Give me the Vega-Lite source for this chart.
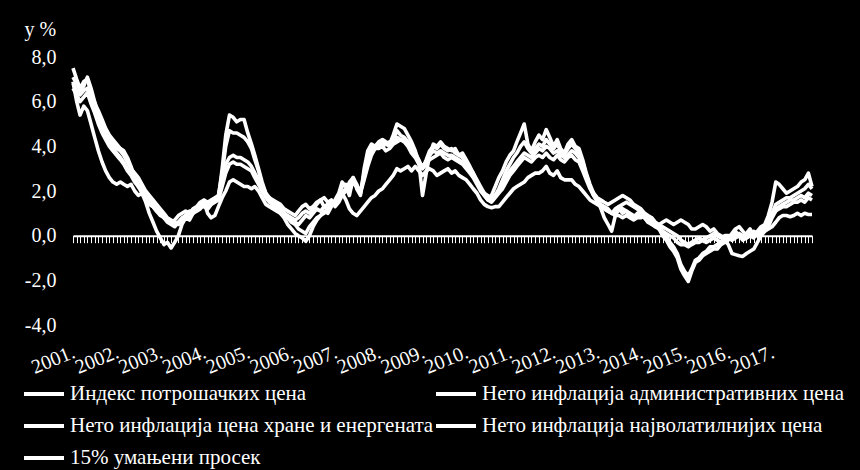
{
"$schema": "https://vega.github.io/schema/vega-lite/v6.json",
"width": 739,
"height": 268,
"autosize": {"type": "none"},
"padding": {"left": 73, "top": 57, "right": 48, "bottom": 145},
"background": "black",
"config": {"view": {"stroke": null}, "font": "'Liberation Serif', 'Times New Roman', serif"},
"data": {"values": [
{"t":"2001-01","a":7.5,"b":7.1,"c":6.8,"d":6.6,"e":6.9},
{"t":"2001-02","a":7.0,"b":6.8,"c":6.5,"d":6.3,"e":6.0},
{"t":"2001-03","a":6.6,"b":6.5,"c":6.3,"d":6.0,"e":5.4},
{"t":"2001-04","a":6.9,"b":6.7,"c":6.5,"d":6.2,"e":5.8},
{"t":"2001-05","a":7.0,"b":7.1,"c":6.6,"d":6.4,"e":5.6},
{"t":"2001-06","a":6.4,"b":6.6,"c":6.2,"d":5.9,"e":5.0},
{"t":"2001-07","a":5.9,"b":6.0,"c":5.8,"d":5.5,"e":4.4},
{"t":"2001-08","a":5.6,"b":5.5,"c":5.3,"d":5.0,"e":3.8},
{"t":"2001-09","a":5.2,"b":5.0,"c":4.9,"d":4.6,"e":3.3},
{"t":"2001-10","a":4.8,"b":4.7,"c":4.5,"d":4.3,"e":2.9},
{"t":"2001-11","a":4.5,"b":4.4,"c":4.2,"d":4.0,"e":2.6},
{"t":"2001-12","a":4.3,"b":4.1,"c":3.9,"d":3.8,"e":2.4},
{"t":"2002-01","a":4.1,"b":3.9,"c":3.7,"d":3.6,"e":2.3},
{"t":"2002-02","a":3.9,"b":3.8,"c":3.5,"d":3.4,"e":2.4},
{"t":"2002-03","a":3.8,"b":3.6,"c":3.3,"d":3.2,"e":2.3},
{"t":"2002-04","a":3.5,"b":3.3,"c":3.0,"d":2.9,"e":2.2},
{"t":"2002-05","a":3.1,"b":3.0,"c":2.8,"d":2.7,"e":2.3},
{"t":"2002-06","a":2.6,"b":2.8,"c":2.6,"d":2.4,"e":2.0},
{"t":"2002-07","a":2.2,"b":2.6,"c":2.3,"d":2.2,"e":1.8},
{"t":"2002-08","a":1.9,"b":2.3,"c":2.1,"d":2.0,"e":1.9},
{"t":"2002-09","a":1.5,"b":2.0,"c":1.9,"d":1.8,"e":1.6},
{"t":"2002-10","a":1.0,"b":1.8,"c":1.6,"d":1.6,"e":1.4},
{"t":"2002-11","a":0.6,"b":1.6,"c":1.4,"d":1.3,"e":1.3},
{"t":"2002-12","a":0.2,"b":1.4,"c":1.2,"d":1.1,"e":1.1},
{"t":"2003-01","a":-0.1,"b":1.2,"c":1.0,"d":0.9,"e":1.0},
{"t":"2003-02","a":-0.4,"b":1.0,"c":0.9,"d":0.8,"e":0.8},
{"t":"2003-03","a":-0.3,"b":0.8,"c":0.7,"d":0.6,"e":0.7},
{"t":"2003-04","a":-0.55,"b":0.7,"c":0.6,"d":0.5,"e":0.6},
{"t":"2003-05","a":-0.3,"b":0.6,"c":0.7,"d":0.4,"e":0.5},
{"t":"2003-06","a":0.0,"b":0.5,"c":0.9,"d":0.6,"e":0.6},
{"t":"2003-07","a":0.5,"b":0.7,"c":1.0,"d":0.8,"e":0.7},
{"t":"2003-08","a":0.8,"b":0.9,"c":1.1,"d":0.9,"e":0.9},
{"t":"2003-09","a":0.7,"b":0.8,"c":1.0,"d":1.0,"e":1.1},
{"t":"2003-10","a":1.0,"b":1.0,"c":1.2,"d":1.1,"e":1.0},
{"t":"2003-11","a":1.2,"b":1.1,"c":1.3,"d":1.2,"e":1.2},
{"t":"2003-12","a":1.3,"b":1.2,"c":1.5,"d":1.3,"e":1.3},
{"t":"2004-01","a":1.5,"b":1.4,"c":1.6,"d":1.3,"e":1.5},
{"t":"2004-02","a":1.2,"b":1.3,"c":1.5,"d":1.2,"e":1.0},
{"t":"2004-03","a":1.4,"b":1.5,"c":1.6,"d":1.4,"e":0.8},
{"t":"2004-04","a":1.6,"b":1.6,"c":1.7,"d":1.5,"e":0.9},
{"t":"2004-05","a":1.7,"b":1.8,"c":1.8,"d":1.6,"e":1.3},
{"t":"2004-06","a":3.0,"b":2.8,"c":2.5,"d":2.2,"e":1.7},
{"t":"2004-07","a":4.5,"b":4.0,"c":3.2,"d":2.8,"e":2.0},
{"t":"2004-08","a":5.4,"b":4.7,"c":3.5,"d":3.2,"e":2.4},
{"t":"2004-09","a":5.3,"b":4.6,"c":3.6,"d":3.3,"e":2.5},
{"t":"2004-10","a":5.1,"b":4.6,"c":3.5,"d":3.2,"e":2.4},
{"t":"2004-11","a":5.2,"b":4.5,"c":3.5,"d":3.2,"e":2.3},
{"t":"2004-12","a":5.2,"b":4.4,"c":3.4,"d":3.1,"e":2.2},
{"t":"2005-01","a":4.6,"b":4.2,"c":3.3,"d":3.0,"e":2.2},
{"t":"2005-02","a":4.1,"b":3.9,"c":3.1,"d":2.9,"e":2.1},
{"t":"2005-03","a":3.6,"b":3.4,"c":2.8,"d":2.6,"e":2.2},
{"t":"2005-04","a":3.0,"b":2.9,"c":2.5,"d":2.3,"e":2.0},
{"t":"2005-05","a":2.4,"b":2.3,"c":2.1,"d":2.0,"e":1.7},
{"t":"2005-06","a":1.9,"b":1.9,"c":1.8,"d":1.7,"e":1.4},
{"t":"2005-07","a":1.6,"b":1.7,"c":1.7,"d":1.5,"e":1.3},
{"t":"2005-08","a":1.3,"b":1.5,"c":1.6,"d":1.4,"e":1.2},
{"t":"2005-09","a":1.2,"b":1.4,"c":1.5,"d":1.3,"e":1.1},
{"t":"2005-10","a":1.0,"b":1.3,"c":1.4,"d":1.2,"e":1.0},
{"t":"2005-11","a":0.8,"b":1.0,"c":1.2,"d":1.0,"e":0.9},
{"t":"2005-12","a":0.5,"b":0.8,"c":1.1,"d":0.9,"e":0.8},
{"t":"2006-01","a":0.3,"b":0.6,"c":1.0,"d":0.8,"e":0.7},
{"t":"2006-02","a":0.1,"b":0.5,"c":0.9,"d":0.7,"e":0.6},
{"t":"2006-03","a":0.0,"b":0.3,"c":1.1,"d":0.8,"e":0.5},
{"t":"2006-04","a":-0.1,"b":0.2,"c":1.3,"d":1.0,"e":0.7},
{"t":"2006-05","a":-0.25,"b":0.1,"c":1.4,"d":1.1,"e":0.9},
{"t":"2006-06","a":0.0,"b":0.4,"c":1.2,"d":1.0,"e":0.8},
{"t":"2006-07","a":0.4,"b":0.6,"c":1.3,"d":1.2,"e":1.0},
{"t":"2006-08","a":0.7,"b":0.8,"c":1.5,"d":1.4,"e":1.2},
{"t":"2006-09","a":0.9,"b":0.9,"c":1.6,"d":1.6,"e":1.1},
{"t":"2006-10","a":1.1,"b":1.0,"c":1.3,"d":1.7,"e":1.3},
{"t":"2006-11","a":1.0,"b":1.2,"c":1.4,"d":1.5,"e":1.2},
{"t":"2006-12","a":1.3,"b":1.4,"c":1.5,"d":1.6,"e":1.4},
{"t":"2007-01","a":1.6,"b":1.5,"c":1.4,"d":1.3,"e":1.5},
{"t":"2007-02","a":1.9,"b":1.8,"c":1.6,"d":1.5,"e":1.7},
{"t":"2007-03","a":2.4,"b":2.2,"c":1.9,"d":1.8,"e":1.9},
{"t":"2007-04","a":2.2,"b":2.3,"c":2.1,"d":2.0,"e":1.6},
{"t":"2007-05","a":1.8,"b":2.0,"c":2.3,"d":2.4,"e":1.2},
{"t":"2007-06","a":2.6,"b":2.4,"c":2.5,"d":2.6,"e":1.0},
{"t":"2007-07","a":2.1,"b":2.2,"c":2.2,"d":2.3,"e":0.9},
{"t":"2007-08","a":1.8,"b":1.9,"c":2.0,"d":1.9,"e":1.1},
{"t":"2007-09","a":3.0,"b":2.8,"c":2.6,"d":2.5,"e":1.3},
{"t":"2007-10","a":3.8,"b":3.6,"c":3.3,"d":3.1,"e":1.5},
{"t":"2007-11","a":4.1,"b":4.0,"c":3.8,"d":3.6,"e":1.7},
{"t":"2007-12","a":4.0,"b":3.9,"c":4.0,"d":3.9,"e":1.8},
{"t":"2008-01","a":4.2,"b":4.0,"c":4.1,"d":3.9,"e":2.0},
{"t":"2008-02","a":4.3,"b":4.2,"c":4.0,"d":4.0,"e":2.1},
{"t":"2008-03","a":4.2,"b":4.1,"c":4.1,"d":3.8,"e":2.3},
{"t":"2008-04","a":4.1,"b":4.0,"c":4.2,"d":3.9,"e":2.5},
{"t":"2008-05","a":4.5,"b":4.3,"c":4.2,"d":4.1,"e":2.7},
{"t":"2008-06","a":5.0,"b":4.7,"c":4.4,"d":4.2,"e":3.0},
{"t":"2008-07","a":4.9,"b":4.5,"c":4.3,"d":4.3,"e":2.9},
{"t":"2008-08","a":4.8,"b":4.4,"c":4.3,"d":4.2,"e":3.0},
{"t":"2008-09","a":4.5,"b":4.2,"c":4.1,"d":4.0,"e":3.1},
{"t":"2008-10","a":4.2,"b":4.0,"c":3.8,"d":3.7,"e":2.9},
{"t":"2008-11","a":3.8,"b":3.7,"c":3.6,"d":3.5,"e":3.1},
{"t":"2008-12","a":3.3,"b":3.4,"c":3.3,"d":3.2,"e":2.9},
{"t":"2009-01","a":1.8,"b":3.0,"c":3.1,"d":3.0,"e":2.7},
{"t":"2009-02","a":2.8,"b":3.4,"c":3.3,"d":3.2,"e":2.9},
{"t":"2009-03","a":3.6,"b":3.8,"c":3.6,"d":3.4,"e":3.0},
{"t":"2009-04","a":4.1,"b":4.0,"c":3.8,"d":3.5,"e":2.9},
{"t":"2009-05","a":4.0,"b":3.9,"c":3.7,"d":3.6,"e":2.7},
{"t":"2009-06","a":4.2,"b":4.1,"c":3.8,"d":3.7,"e":2.8},
{"t":"2009-07","a":4.0,"b":3.9,"c":3.7,"d":3.5,"e":2.9},
{"t":"2009-08","a":3.9,"b":3.8,"c":3.6,"d":3.4,"e":3.0},
{"t":"2009-09","a":3.8,"b":3.9,"c":3.6,"d":3.5,"e":2.8},
{"t":"2009-10","a":3.9,"b":3.7,"c":3.5,"d":3.4,"e":2.9},
{"t":"2009-11","a":3.6,"b":3.6,"c":3.4,"d":3.3,"e":2.7},
{"t":"2009-12","a":3.7,"b":3.5,"c":3.3,"d":3.2,"e":2.6},
{"t":"2010-01","a":3.4,"b":3.3,"c":3.2,"d":3.0,"e":2.5},
{"t":"2010-02","a":3.1,"b":3.0,"c":3.0,"d":2.8,"e":2.3},
{"t":"2010-03","a":2.8,"b":2.8,"c":2.7,"d":2.6,"e":2.1},
{"t":"2010-04","a":2.4,"b":2.5,"c":2.4,"d":2.3,"e":1.9},
{"t":"2010-05","a":2.1,"b":2.2,"c":2.1,"d":2.0,"e":1.6},
{"t":"2010-06","a":1.8,"b":1.9,"c":1.9,"d":1.8,"e":1.4},
{"t":"2010-07","a":1.6,"b":1.7,"c":1.8,"d":1.6,"e":1.3},
{"t":"2010-08","a":1.8,"b":1.6,"c":1.7,"d":1.5,"e":1.25},
{"t":"2010-09","a":2.2,"b":1.8,"c":1.8,"d":1.7,"e":1.3},
{"t":"2010-10","a":2.6,"b":2.1,"c":2.0,"d":1.9,"e":1.3},
{"t":"2010-11","a":2.9,"b":2.5,"c":2.3,"d":2.1,"e":1.5},
{"t":"2010-12","a":3.3,"b":2.9,"c":2.6,"d":2.4,"e":1.7},
{"t":"2011-01","a":3.6,"b":3.2,"c":2.9,"d":2.7,"e":1.9},
{"t":"2011-02","a":3.8,"b":3.5,"c":3.1,"d":2.9,"e":2.1},
{"t":"2011-03","a":4.2,"b":3.7,"c":3.3,"d":3.1,"e":2.2},
{"t":"2011-04","a":4.6,"b":4.0,"c":3.5,"d":3.3,"e":2.3},
{"t":"2011-05","a":5.0,"b":4.2,"c":3.7,"d":3.5,"e":2.4},
{"t":"2011-06","a":4.1,"b":3.9,"c":3.6,"d":3.4,"e":2.6},
{"t":"2011-07","a":3.8,"b":3.7,"c":3.5,"d":3.3,"e":2.7},
{"t":"2011-08","a":4.2,"b":3.9,"c":3.7,"d":3.5,"e":2.8},
{"t":"2011-09","a":4.5,"b":4.1,"c":3.9,"d":3.6,"e":2.8},
{"t":"2011-10","a":4.3,"b":4.0,"c":3.8,"d":3.5,"e":2.9},
{"t":"2011-11","a":4.75,"b":4.3,"c":4.0,"d":3.7,"e":3.1},
{"t":"2011-12","a":4.4,"b":4.1,"c":3.9,"d":3.5,"e":2.8},
{"t":"2012-01","a":4.0,"b":3.9,"c":3.7,"d":3.4,"e":2.7},
{"t":"2012-02","a":4.3,"b":4.1,"c":3.8,"d":3.6,"e":2.9},
{"t":"2012-03","a":3.9,"b":3.8,"c":3.6,"d":3.4,"e":2.6},
{"t":"2012-04","a":3.7,"b":3.6,"c":3.5,"d":3.3,"e":2.5},
{"t":"2012-05","a":4.1,"b":3.9,"c":3.6,"d":3.5,"e":2.5},
{"t":"2012-06","a":4.3,"b":4.1,"c":3.8,"d":3.6,"e":2.5},
{"t":"2012-07","a":4.0,"b":3.9,"c":3.7,"d":3.4,"e":2.3},
{"t":"2012-08","a":3.9,"b":3.7,"c":3.5,"d":3.3,"e":2.2},
{"t":"2012-09","a":3.4,"b":3.3,"c":3.1,"d":2.9,"e":2.0},
{"t":"2012-10","a":2.8,"b":2.7,"c":2.6,"d":2.5,"e":1.8},
{"t":"2012-11","a":2.3,"b":2.2,"c":2.2,"d":2.1,"e":1.6},
{"t":"2012-12","a":1.9,"b":1.8,"c":1.9,"d":1.8,"e":1.5},
{"t":"2013-01","a":1.6,"b":1.6,"c":1.7,"d":1.5,"e":1.4},
{"t":"2013-02","a":1.2,"b":1.4,"c":1.6,"d":1.3,"e":1.3},
{"t":"2013-03","a":0.8,"b":1.3,"c":1.5,"d":1.2,"e":1.2},
{"t":"2013-04","a":0.5,"b":1.2,"c":1.4,"d":1.1,"e":1.1},
{"t":"2013-05","a":0.2,"b":1.0,"c":1.5,"d":1.0,"e":1.0},
{"t":"2013-06","a":0.9,"b":1.1,"c":1.6,"d":1.2,"e":0.9},
{"t":"2013-07","a":1.2,"b":1.3,"c":1.7,"d":1.3,"e":0.9},
{"t":"2013-08","a":1.0,"b":1.4,"c":1.8,"d":1.2,"e":0.8},
{"t":"2013-09","a":1.1,"b":1.5,"c":1.7,"d":1.1,"e":0.9},
{"t":"2013-10","a":0.9,"b":1.4,"c":1.6,"d":1.0,"e":0.8},
{"t":"2013-11","a":0.8,"b":1.3,"c":1.4,"d":0.9,"e":0.7},
{"t":"2013-12","a":1.0,"b":1.2,"c":1.3,"d":0.9,"e":0.8},
{"t":"2014-01","a":0.9,"b":1.0,"c":1.2,"d":0.9,"e":0.8},
{"t":"2014-02","a":0.8,"b":0.9,"c":1.0,"d":0.8,"e":0.9},
{"t":"2014-03","a":0.6,"b":0.7,"c":0.9,"d":0.6,"e":0.7},
{"t":"2014-04","a":0.7,"b":0.8,"c":0.8,"d":0.5,"e":0.6},
{"t":"2014-05","a":0.5,"b":0.6,"c":0.6,"d":0.4,"e":0.4},
{"t":"2014-06","a":0.3,"b":0.4,"c":0.5,"d":0.3,"e":0.5},
{"t":"2014-07","a":0.0,"b":0.2,"c":0.4,"d":0.2,"e":0.6},
{"t":"2014-08","a":-0.2,"b":0.0,"c":0.3,"d":0.1,"e":0.7},
{"t":"2014-09","a":-0.5,"b":-0.3,"c":0.2,"d":0.0,"e":0.6},
{"t":"2014-10","a":-0.7,"b":-0.5,"c":0.1,"d":-0.1,"e":0.5},
{"t":"2014-11","a":-1.0,"b":-0.8,"c":0.0,"d":-0.3,"e":0.6},
{"t":"2014-12","a":-1.5,"b":-1.3,"c":-0.2,"d":-0.4,"e":0.7},
{"t":"2015-01","a":-1.8,"b":-1.6,"c":-0.3,"d":-0.4,"e":0.6},
{"t":"2015-02","a":-2.05,"b":-1.8,"c":-0.4,"d":-0.5,"e":0.5},
{"t":"2015-03","a":-1.6,"b":-1.5,"c":-0.3,"d":-0.4,"e":0.3},
{"t":"2015-04","a":-1.2,"b":-1.1,"c":-0.2,"d":-0.3,"e":0.3},
{"t":"2015-05","a":-1.1,"b":-1.0,"c":-0.1,"d":-0.3,"e":0.4},
{"t":"2015-06","a":-0.9,"b":-0.8,"c":-0.2,"d":-0.2,"e":0.5},
{"t":"2015-07","a":-0.8,"b":-0.7,"c":-0.1,"d":-0.3,"e":0.4},
{"t":"2015-08","a":-0.7,"b":-0.5,"c":0.0,"d":-0.2,"e":0.2},
{"t":"2015-09","a":-0.6,"b":-0.5,"c":0.1,"d":-0.1,"e":0.3},
{"t":"2015-10","a":-0.6,"b":-0.4,"c":0.0,"d":-0.2,"e":0.1},
{"t":"2015-11","a":-0.4,"b":-0.3,"c":-0.1,"d":-0.3,"e":0.0},
{"t":"2015-12","a":-0.3,"b":-0.2,"c":0.0,"d":-0.2,"e":-0.1},
{"t":"2016-01","a":-0.2,"b":-0.1,"c":0.0,"d":-0.4,"e":-0.1},
{"t":"2016-02","a":0.0,"b":0.1,"c":-0.1,"d":-0.8,"e":-0.2},
{"t":"2016-03","a":0.2,"b":0.3,"c":0.0,"d":-0.85,"e":-0.1},
{"t":"2016-04","a":0.0,"b":0.4,"c":0.1,"d":-0.9,"e":0.0},
{"t":"2016-05","a":-0.1,"b":0.2,"c":0.0,"d":-0.93,"e":-0.2},
{"t":"2016-06","a":0.1,"b":0.0,"c":-0.1,"d":-0.8,"e":-0.1},
{"t":"2016-07","a":0.3,"b":0.1,"c":0.0,"d":-0.7,"e":0.0},
{"t":"2016-08","a":0.0,"b":0.2,"c":0.1,"d":-0.6,"e":-0.1},
{"t":"2016-09","a":0.2,"b":0.1,"c":0.0,"d":-0.3,"e":0.1},
{"t":"2016-10","a":0.4,"b":0.3,"c":0.2,"d":0.0,"e":0.0},
{"t":"2016-11","a":0.5,"b":0.4,"c":0.3,"d":0.2,"e":0.2},
{"t":"2016-12","a":0.9,"b":0.7,"c":0.5,"d":0.4,"e":0.3},
{"t":"2017-01","a":1.5,"b":1.0,"c":0.9,"d":0.8,"e":0.4},
{"t":"2017-02","a":2.4,"b":1.4,"c":1.2,"d":1.1,"e":0.6},
{"t":"2017-03","a":2.3,"b":1.5,"c":1.3,"d":1.2,"e":0.8},
{"t":"2017-04","a":2.1,"b":1.6,"c":1.4,"d":1.3,"e":0.9},
{"t":"2017-05","a":1.9,"b":1.7,"c":1.5,"d":1.3,"e":0.9},
{"t":"2017-06","a":2.0,"b":1.7,"c":1.6,"d":1.4,"e":0.85},
{"t":"2017-07","a":2.1,"b":1.8,"c":1.6,"d":1.5,"e":0.9},
{"t":"2017-08","a":2.2,"b":1.9,"c":1.7,"d":1.5,"e":1.0},
{"t":"2017-09","a":2.4,"b":2.0,"c":1.8,"d":1.6,"e":0.9},
{"t":"2017-10","a":2.5,"b":2.1,"c":1.7,"d":1.5,"e":1.0},
{"t":"2017-11","a":2.8,"b":2.3,"c":1.9,"d":1.7,"e":0.95},
{"t":"2017-12","a":2.2,"b":2.1,"c":1.8,"d":1.6,"e":0.95}
]},
"transform": [{"fold": ["a", "b", "c", "d", "e"], "as": ["s", "v"]}],
"mark": {"type": "line", "strokeWidth": 3.6, "strokeJoin": "round"},
"encoding": {
  "x": {
    "field": "t", "type": "temporal",
    "scale": {"type": "utc", "domain": [{"year": 2001, "month": 1, "date": 1, "utc": true}, {"year": 2017, "month": 12, "date": 1, "utc": true}]},
    "axis": {
      "orient": "bottom", "offset": -89.33, "title": null, "grid": false,
      "domainColor": "white", "domainWidth": 2,
      "tickColor": "white", "tickWidth": 1, "tickSize": 7,
      "tickCount": {"interval": "month", "step": 1},
      "labelExpr": "utcmonth(datum.value) == 0 ? utcFormat(datum.value, '%Y.') : ''",
      "labelOverlap": false, "labelFlush": false,
      "labelAngle": -22, "labelAlign": "right", "labelBaseline": "alphabetic",
      "labelPadding": 114, "labelOffset": 3,
      "labelColor": "white", "labelFont": "'Liberation Serif', 'Times New Roman', serif", "labelFontSize": 20
    }
  },
  "y": {
    "field": "v", "type": "quantitative",
    "scale": {"domain": [-4, 8], "nice": false, "zero": false},
    "axis": {
      "values": [-4, -2, 0, 2, 4, 6, 8], "domain": false, "ticks": false, "grid": false,
      "labelPadding": 17, "labelColor": "white", "labelFont": "'Liberation Serif', 'Times New Roman', serif", "labelFontSize": 20,
      "labelExpr": "(datum.value < 0 ? '-' : '') + replace(format(abs(datum.value), '.1f'), '.', ',')",
      "title": "у %", "titleAngle": 0, "titleX": -49, "titleY": -22,
      "titleAlign": "left", "titleBaseline": "alphabetic",
      "titleColor": "white", "titleFont": "'Liberation Serif', 'Times New Roman', serif", "titleFontSize": 20, "titleFontWeight": "normal"
    }
  },
  "color": {
    "field": "s", "type": "nominal",
    "scale": {"domain": ["a", "c", "e", "b", "d"], "range": ["white", "white", "white", "white", "white"]},
    "legend": {
      "orient": "none", "legendX": -51, "legendY": 315, "columns": 2, "title": null,
      "padding": 0, "rowPadding": -9, "columnPadding": -8,
      "symbolType": "stroke", "symbolSize": 1600, "symbolStrokeWidth": 4, "symbolStrokeColor": "white",
      "labelOffset": 4, "labelLimit": 600,
      "labelColor": "white", "labelFont": "'Liberation Serif', 'Times New Roman', serif", "labelFontSize": 21,
      "labelExpr": "datum.label == 'a' ? 'Индекс потрошачких цена' : datum.label == 'b' ? 'Нето инфлација административних цена' : datum.label == 'c' ? 'Нето инфлација цена хране и енергената' : datum.label == 'd' ? 'Нето инфлација најволатилнијих цена' : '15% умањени просек'"
    }
  }
}
}
